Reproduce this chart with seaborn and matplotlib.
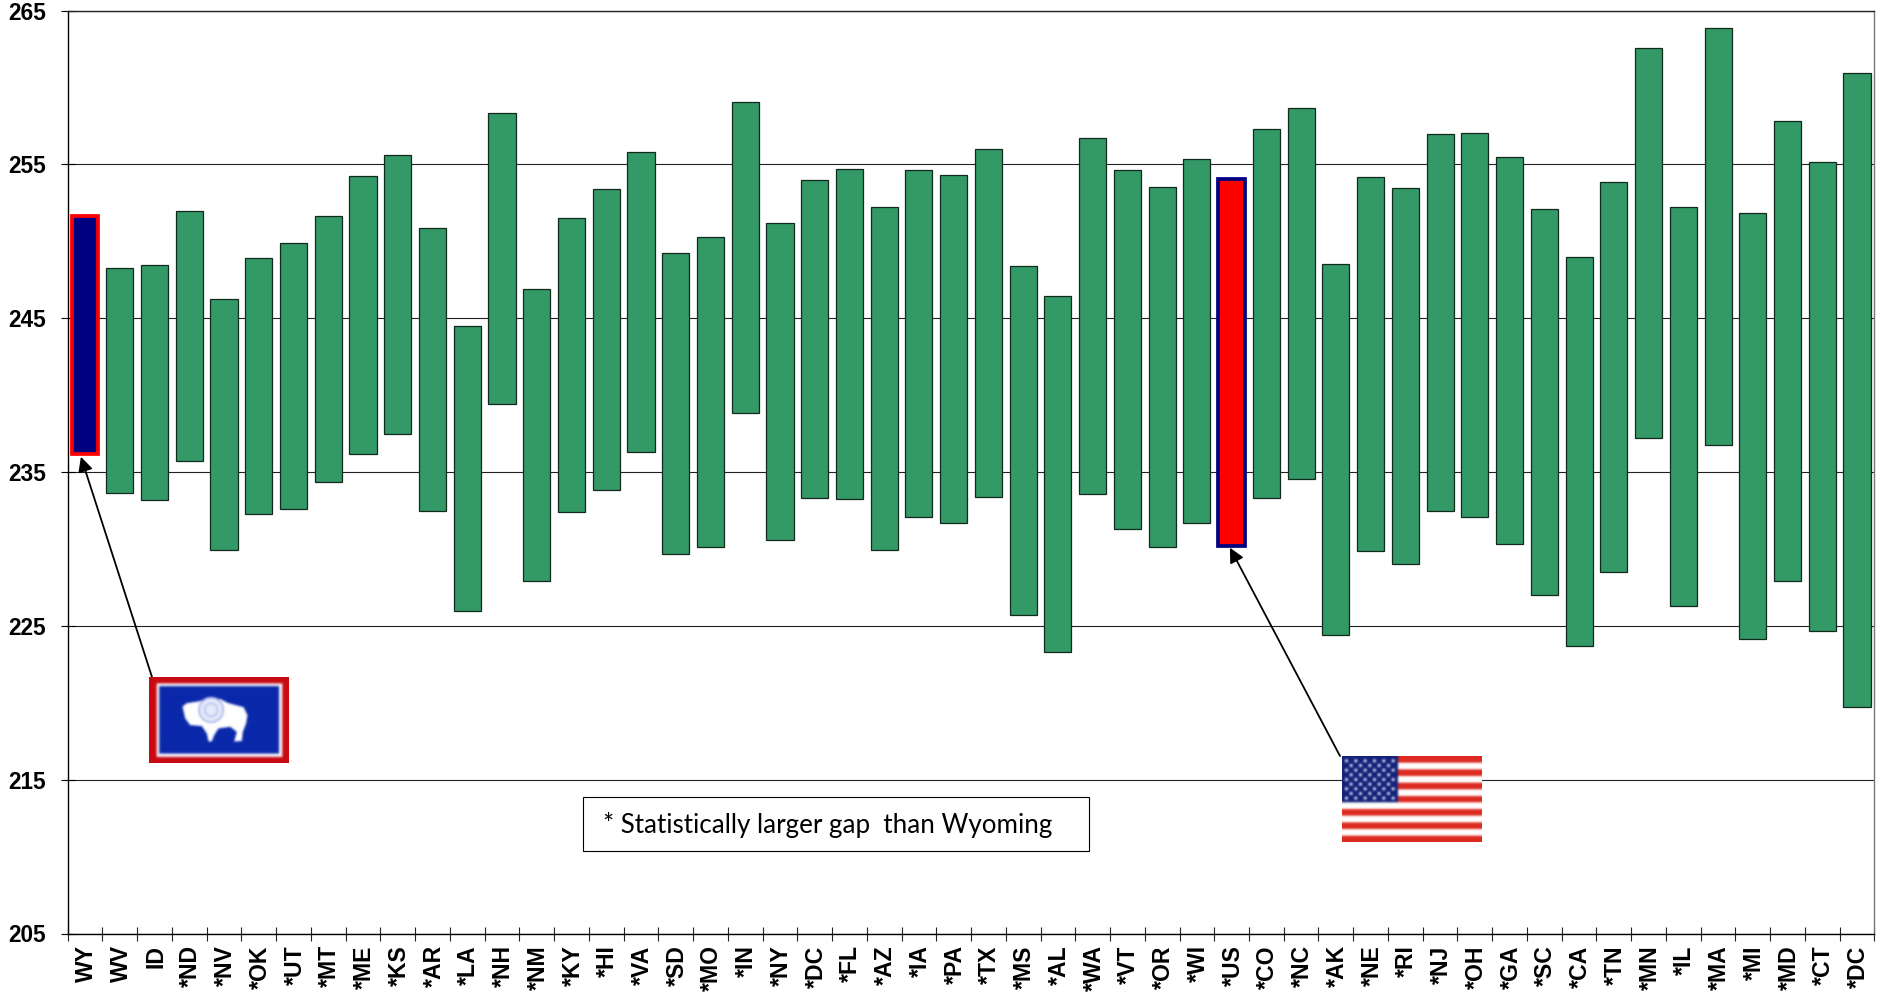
import numpy as np
import matplotlib
matplotlib.use("Agg")
import matplotlib.pyplot as plt
from matplotlib.patches import Rectangle
from matplotlib.path import Path
from matplotlib.transforms import ScaledTranslation
import seaborn as sns

states = ["WY","WV","ID","*ND","*NV","*OK","*UT","*MT","*ME","*KS","*AR","*LA","*NH","*NM","*KY","*HI","*VA",
          "*SD","*MO","*IN","*NY","*DC","*FL","*AZ","*IA","*PA","*TX","*MS","*AL","*WA","*VT","*OR","*WI","*US",
          "*CO","*NC","*AK","*NE","*RI","*NJ","*OH","*GA","*SC","*CA","*TN","*MN","*IL","*MA","*MI","*MD","*CT","*DC"]
upper = [251.65,248.29,248.45,251.96,246.26,248.92,249.86,251.65,254.23,255.63,250.87,244.47,258.36,246.89,251.50,253.37,255.79,
         249.23,250.25,259.07,251.18,253.99,254.70,252.20,254.62,254.31,256.02,248.37,246.42,256.73,254.62,253.52,255.32,254.07,
         257.27,258.68,248.53,254.15,253.45,256.96,257.04,255.48,252.12,249.00,253.84,262.58,252.20,263.83,251.81,257.82,255.16,260.94]
lower = [236.19,233.62,233.15,235.73,229.95,232.29,232.60,234.32,236.19,237.44,232.45,225.97,239.40,227.92,232.37,233.85,236.27,
         229.64,230.11,238.85,230.57,233.31,233.23,229.95,232.06,231.67,233.38,225.73,223.31,233.54,231.28,230.11,231.67,230.18,
         233.31,234.56,224.41,229.87,229.01,232.45,232.06,230.34,226.98,223.70,228.47,237.21,226.28,236.74,224.17,227.92,224.64,219.72]
y_ticks = [205,215,225,235,245,255,265]
note = "* Statistically larger gap  than Wyoming"

W, H = 1883, 1008
sns.set_theme(style="white")
plt.rcParams["font.family"] = ["Liberation Sans", "DejaVu Sans"]
fig = plt.figure(figsize=(W/100, H/100), dpi=100)
L, R, T, B = 67.7, 1874.4, 10.5, 933.5
ax = fig.add_axes([L/W, 1-B/H, (R-L)/W, (B-T)/H])

pos = np.arange(len(states))
low = np.array(lower); up = np.array(upper)
sns.barplot(x=pos, y=up-low, bottom=low, native_scale=True, color="#339966", saturation=1,
            width=0.78, edgecolor="#12291d", linewidth=0.9, ax=ax, zorder=3)
hi = {"WY": ("#000080", "#ff0000"), "*US": ("#ff0000", "#000080")}
for patch, s, p in zip(ax.patches, states, pos):
    if s in hi:
        patch.set_facecolor(hi[s][0]); patch.set_edgecolor(hi[s][1]); patch.set_linewidth(2.7)
        patch.set_x(p-0.378); patch.set_width(0.756)

ax.set_xlim(-0.5, len(states)-0.5)
ax.set_ylim(205, 265)
ax.set_xlabel(""); ax.set_ylabel("")
ax.set_yticks(y_ticks)
ax.set_yticklabels([str(v) for v in y_ticks], fontweight="bold", fontsize=16.3, color="black")
ax.tick_params(axis="y", left=True, direction="inout", length=10, width=0.8, color="black", pad=10.5)
ax.set_xticks(pos)
ax.set_xticklabels(states, rotation=90, fontweight="bold", fontsize=16.6, color="black", va="top", ha="center")
ax.tick_params(axis="x", which="major", bottom=False, length=0, pad=8.5)
shift = ScaledTranslation(1.5/100, 0, fig.dpi_scale_trans)
for lab in ax.get_xticklabels():
    lab.set_transform(lab.get_transform() + shift)
ax.set_xticks(np.arange(len(states)+1)-0.5, minor=True)
ax.tick_params(axis="x", which="minor", bottom=True, top=False, direction="inout", length=9.4, width=0.8, color="#222222")
ax.yaxis.grid(True, color="#222222", linewidth=0.8, zorder=1)
ax.xaxis.grid(False)
ax.set_axisbelow(True)
for side, col in [("left","black"),("bottom","black"),("top","#222222"),("right","#777777")]:
    ax.spines[side].set_visible(True)
    ax.spines[side].set_color(col)
    ax.spines[side].set_linewidth(1.0)

# overlay working in reference pixels, for the annotation artwork
ov = fig.add_axes([0,0,1,1], zorder=5)
ov.set_xlim(0, W); ov.set_ylim(H, 0); ov.axis("off"); ov.patch.set_alpha(0)
ov.add_patch(Rectangle((583.5,797), 506, 54, fc="white", ec="black", lw=0.8))
ov.text(603, 825, note, family=["Lato","DejaVu Sans"], fontsize=18.75, va="center", ha="left", color="black")

wy, us = states.index("WY"), states.index("*US")
for idx, dx, dy, start in [(wy,-0.12,-0.2,(152,677)), (us,-0.05,-0.1,(1340,756))]:
    ov.annotate("", xy=(idx+dx, low[idx]+dy), xycoords=ax.transData, xytext=start, textcoords="data",
                arrowprops=dict(arrowstyle="-|>", color="black", lw=1.3, shrinkA=0, shrinkB=0, mutation_scale=22))


def hexrgb(c):
    return np.array(matplotlib.colors.to_rgb(c))

def blur(img, sigma):
    r = int(3*sigma)
    k = np.exp(-0.5*(np.arange(-r, r+1)/sigma)**2); k /= k.sum()
    out = img
    for axis in (0, 1):
        pad = [(0, 0)]*3; pad[axis] = (r, r)
        padded = np.pad(out, pad, mode="edge")
        out = np.apply_along_axis(lambda v: np.convolve(v, k, mode="valid"), axis, padded)
    return out

def show_flag(img, x0, y0, x1, y1):
    a = fig.add_axes([x0/W, 1-y1/H, (x1-x0)/W, (y1-y0)/H], zorder=6)
    a.imshow(img, aspect="auto", interpolation="antialiased")
    a.set_xticks([]); a.set_yticks([])
    for s in a.spines.values():
        s.set_visible(False)

# Wyoming flag raster, in crop coordinates (3x reference pixels)
gx, gy = np.meshgrid(np.arange(27, 447), np.arange(20, 278))
wyo = np.ones(gx.shape + (3,)) * hexrgb("#c80a14")
def rect(a, x0, x1, y0, y1, col, X=gx, Y=gy):
    a[(X >= x0) & (X < x1) & (Y >= y0) & (Y < y1)] = hexrgb(col)
rect(wyo, 50, 427, 42, 260, "#f4f4fa")
rect(wyo, 58, 417, 50, 250, "#0a28aa")
bison = [(127,110),(140,100),(175,95),(205,85),(240,88),(265,100),(310,112),(322,135),(318,160),(308,185),(305,212),
         (282,214),(290,185),(270,170),(235,175),(222,195),(215,213),(205,213),(200,190),(185,168),(150,165),(135,145)]
pts = np.column_stack([gx.ravel(), gy.ravel()])
wyo[Path(bison).contains_points(pts).reshape(gx.shape)] = hexrgb("#ffffff")
d = np.hypot(gx-213, gy-120)
wyo[d < 39] = hexrgb("#a8b6ec")
wyo[d < 34] = hexrgb("#e6eafa")
wyo[d < 22] = hexrgb("#b8c4f0")
wyo[d < 17] = hexrgb("#e6eafa")
show_flag(blur(wyo, 3.2), 149, 677, 289, 763)

# US flag raster, in the same kind of coordinates
ux, uy = np.meshgrid(np.arange(21, 441), np.arange(18, 276))
usa = np.ones(ux.shape + (3,)) * hexrgb("#ffffff")
band = ((uy-18) / (258/13)).astype(int)
usa[band % 2 == 0] = hexrgb("#dd2a20")
rect(usa, 21, 189, 18, 157, "#14237a", ux, uy)
for r in range(9):
    for c in range(11):
        if (r+c) % 2 == 0:
            usa[np.hypot(ux-(34+c*14), uy-(32+r*14)) < 4.5] = hexrgb("#dfe4f6")
show_flag(blur(usa, 3.0), 1342, 756, 1482, 842)

fig.savefig("out.png", dpi=100)
